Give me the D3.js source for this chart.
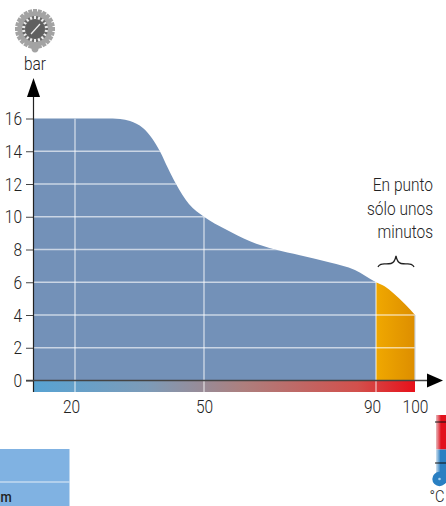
<!DOCTYPE html>
<html>
<head>
<meta charset="utf-8">
<script src="https://cdn.jsdelivr.net/npm/d3@7"></script>
<style>
  html, body { margin: 0; padding: 0; background: #fff; overflow: hidden; }
  svg { display: block; }
  text { font-family: Roboto, sans-serif; font-weight: 300; fill: #222; }
</style>
</head>
<body>
<div id="chart"></div>
<script>
// values
const curveTemps = [10.5, 20, 27, 30.5, 32.8, 35.8, 37.9, 39.8, 41.6, 43.5, 46.5, 50, 54.9, 60.7, 66.5, 72.3, 79.3, 85.1, 90, 92.3, 94.4, 97.4, 100];
const curveBars = [16, 16, 16, 15.97, 15.85, 15.42, 14.8, 13.97, 12.98, 12, 10.78, 10, 9.25, 8.5, 8, 7.65, 7.2, 6.75, 6, 5.74, 5.34, 4.67, 4];
const barTicks = [0, 2, 4, 6, 8, 10, 12, 14, 16];
const tempTicks = [20, 50, 90, 100];
const noteLines = ["En punto", "sólo unos", "minutos"];

const width = 446, height = 506;

const svg = d3.select("#chart").append("svg")
    .attr("width", width)
    .attr("height", height);

const x = d3.scaleLinear().domain([10.5, 20, 50, 90, 100]).range([33.5, 75, 204, 376, 415]);
const y = d3.scaleLinear().domain([0, 16]).range([380.5, 118.5]);
const bandBottom = 392;

const defs = svg.append("defs");

function gradient(id, x1, x2, stops) {
    const g = defs.append("linearGradient").attr("id", id)
        .attr("x1", x1).attr("x2", x2).attr("y1", 0).attr("y2", 0);
    stops.forEach(s => g.append("stop").attr("offset", s[0]).attr("stop-color", s[1]));
}
gradient("band", 0, 1, [[0, "#57a3d3"], [0.3, "#7d9bb8"], [0.55, "#ad7f7e"], [0.85, "#d2504c"], [1, "#e8101a"]]);
gradient("thermoRed", 0, 1, [[0, "#e7b9bd"], [0.5, "#e2101c"], [1, "#e2101c"]]);
gradient("thermoBlue", 0, 1, [[0, "#cfe0ee"], [0.45, "#2a7fc2"], [1, "#2a7fc2"]]);
defs.append("linearGradient").attr("id", "hot")
    .attr("gradientUnits", "userSpaceOnUse")
    .attr("x1", x(90)).attr("x2", x(100)).attr("y1", 0).attr("y2", 0)
    .call(g => {
        g.append("stop").attr("offset", 0).attr("stop-color", "#f0a800");
        g.append("stop").attr("offset", 1).attr("stop-color", "#dd8e00");
    });

const area = d3.area()
    .x(d => x(d[0]))
    .y0(y(0))
    .y1(d => y(d[1]))
    .curve(d3.curveMonotoneX);

const curveData = d3.zip(curveTemps, curveBars);

// table fragment bottom left
svg.append("rect").attr("x", 0).attr("y", 449).attr("width", 69.5).attr("height", 57).attr("fill", "#80b2e2");
svg.append("line").attr("x1", 0).attr("x2", 69.5).attr("y1", 482).attr("y2", 482)
    .attr("stroke", "#e4eef8").attr("stroke-width", 1.2);
svg.append("text").attr("x", 0.5).attr("y", 502)
    .style("font-size", "15px").style("font-weight", "500").style("fill", "#222").text("m");

// same curve, split at 90 degrees into the two fills
defs.append("clipPath").attr("id", "cool-clip").append("rect")
    .attr("x", 0).attr("y", 0).attr("width", x(90)).attr("height", height);
defs.append("clipPath").attr("id", "hot-clip").append("rect")
    .attr("x", x(90)).attr("y", 0).attr("width", width - x(90)).attr("height", height);
svg.append("path").attr("d", area(curveData)).attr("fill", "#7391b8").attr("clip-path", "url(#cool-clip)");
svg.append("path").attr("d", area(curveData)).attr("fill", "url(#hot)").attr("clip-path", "url(#hot-clip)");
svg.append("rect")
    .attr("x", x(10.5)).attr("y", y(0))
    .attr("width", x(100) - x(10.5)).attr("height", bandBottom - y(0))
    .attr("fill", "url(#band)");

// grid is clipped to the filled shape
const clip = defs.append("clipPath").attr("id", "fill-clip");
clip.append("path").attr("d", area(curveData));
clip.append("rect").attr("x", x(10.5)).attr("y", y(0))
    .attr("width", x(100) - x(10.5) + 2).attr("height", bandBottom - y(0));

const grid = svg.append("g").attr("clip-path", "url(#fill-clip)")
    .attr("stroke", "#fff").attr("stroke-opacity", 0.62).attr("stroke-width", 1.4);
grid.selectAll("line.h").data(barTicks.filter(d => d > 0 && d < 16)).enter().append("line")
    .attr("class", "h")
    .attr("x1", x(10.5)).attr("x2", x(100))
    .attr("y1", d => y(d)).attr("y2", d => y(d));
grid.selectAll("line.v").data([20, 50, 90]).enter().append("line")
    .attr("class", "v")
    .attr("x1", d => x(d)).attr("x2", d => x(d))
    .attr("y1", y(16)).attr("y2", bandBottom);

// light edge on the right of the hot part
svg.append("line")
    .attr("x1", x(100)).attr("x2", x(100))
    .attr("y1", y(4)).attr("y2", y(0))
    .attr("stroke", "#c9d3e2").attr("stroke-width", 1.2);

// axes
const yAxis = d3.axisLeft(y).tickValues(barTicks).tickSize(8).tickPadding(4);
const gy = svg.append("g").attr("transform", "translate(34,0)").call(yAxis);
gy.select(".domain").remove();
gy.selectAll("line").attr("stroke", "#444").attr("stroke-width", 1);
gy.selectAll("text").style("font-size", "18px").style("font-family", "Roboto, sans-serif").style("fill", "#222")
    .attr("dy", "0.34em");

const labelNudge = { 20: -4, 50: 0, 90: -4, 100: 0 };
const xAxis = d3.axisBottom(x).tickValues(tempTicks).tickSize(0).tickPadding(0)
    .tickFormat(d3.format("d"));
const gx = svg.append("g").attr("transform", "translate(0,399)").call(xAxis);
gx.select(".domain").remove();
gx.selectAll("text").style("font-size", "18px").style("font-family", "Roboto, sans-serif").style("fill", "#222")
    .attr("dx", d => labelNudge[d]).attr("y", 0).attr("dy", "0.8em");

svg.append("line").attr("x1", 33.5).attr("x2", 33.5).attr("y1", 95).attr("y2", 392)
    .attr("stroke", "#222").attr("stroke-width", 1.2);
svg.append("line").attr("x1", 26).attr("x2", 429).attr("y1", 380.5).attr("y2", 380.5)
    .attr("stroke", "#444").attr("stroke-width", 1.3);
svg.append("path").attr("d", "M33.5,78 L40,97 L27,97 Z").attr("fill", "#000");
svg.append("path").attr("d", "M443,380.5 L427,373.5 L427,387.5 Z").attr("fill", "#000");

// note with brace
svg.selectAll("text.note").data(noteLines).enter().append("text")
    .attr("class", "note")
    .attr("x", 433)
    .attr("y", (d, i) => 191 + i * 23.5)
    .attr("text-anchor", "end")
    .style("font-size", "18px")
    .text(d => d);
svg.append("path")
    .attr("d", "M378,267 C380,262 385,265 391,263.5 C393,263 395,261 396,256 C397,261 399,263 401,263.5 C407,265 412,262 414,267")
    .attr("fill", "none").attr("stroke", "#222").attr("stroke-width", 1.3);

// pressure gauge icon
const gauge = svg.append("g").attr("transform", "translate(35,29)");
const gearTeeth = d3.range(0, 360, 15);
gauge.append("path").attr("d", "M-5,14 L5,14 L3,22 Q0,25 -3,22 Z").attr("fill", "#a3a3a3");
gauge.selectAll("rect.tooth").data(gearTeeth).enter().append("rect")
    .attr("class", "tooth")
    .attr("x", -2).attr("y", -20).attr("width", 4).attr("height", 5)
    .attr("fill", "#a3a3a3")
    .attr("transform", d => `rotate(${d})`);
gauge.append("circle").attr("r", 17.5).attr("fill", "#a3a3a3");
gauge.append("circle").attr("r", 13).attr("fill", "#6a6a6a");
gauge.selectAll("line.mark").data(d3.range(0, 360, 20)).enter().append("line")
    .attr("class", "mark")
    .attr("y1", -13).attr("y2", -10)
    .attr("stroke", "#eee").attr("stroke-width", 2)
    .attr("transform", d => `rotate(${d})`);
gauge.append("circle").attr("r", 9.5).attr("fill", "#5f5f5f");
gauge.append("line").attr("x1", -4).attr("y1", 5).attr("x2", 5).attr("y2", -5)
    .attr("stroke", "#eee").attr("stroke-width", 1.2);
svg.append("text").attr("x", 35).attr("y", 70).attr("text-anchor", "middle")
    .style("font-size", "18px").text("bar");

// thermometer icon
const thermo = svg.append("g");
thermo.append("rect").attr("x", 436).attr("y", 415).attr("width", 10).attr("height", 34.5).attr("fill", "url(#thermoRed)");
thermo.append("rect").attr("x", 436).attr("y", 449.5).attr("width", 10).attr("height", 28).attr("fill", "url(#thermoBlue)");
thermo.append("circle").attr("cx", 439.5).attr("cy", 479).attr("r", 7.2).attr("fill", "#2a7fc2");
thermo.append("circle").attr("cx", 439.5).attr("cy", 479).attr("r", 1.3).attr("fill", "#a8d0ee");
thermo.selectAll("line").data([422, 463]).enter().append("line")
    .attr("x1", 435).attr("x2", 446).attr("y1", d => d).attr("y2", d => d)
    .attr("stroke", "#111").attr("stroke-width", 1);
svg.append("text").attr("x", 437).attr("y", 502).attr("text-anchor", "middle")
    .style("font-size", "17px").text("°C");

// squeeze all text to the narrow look of the original type
svg.selectAll("text").each(function () {
    const len = this.getComputedTextLength();
    d3.select(this).attr("textLength", len * 0.86).attr("lengthAdjust", "spacingAndGlyphs");
});
</script>
</body>
</html>
